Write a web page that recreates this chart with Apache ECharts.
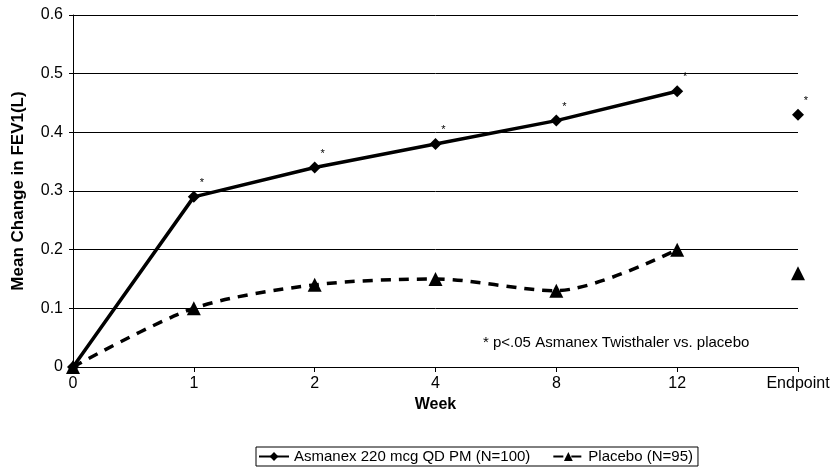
<!DOCTYPE html>
<html>
<head>
<meta charset="utf-8">
<script src="https://cdn.jsdelivr.net/npm/echarts@6/dist/echarts.min.js"></script>
<style>html,body{margin:0;padding:0;background:#fff;}#c{width:835px;height:475px;}</style>
</head>
<body>
<div id="c"></div>
<script>
var categories = ['0', '1', '2', '4', '8', '12', 'Endpoint'];
var asmanexWeeks = [0, 0.29, 0.34, 0.38, 0.42, 0.47];
var asmanexEndpoint = 0.43;
var placeboWeeks = [0, 0.10, 0.14, 0.15, 0.13, 0.20];
var placeboEndpoint = 0.16;
var significant = [false, true, true, true, true, true, true];
var yTicks = [0, 0.1, 0.2, 0.3, 0.4, 0.5, 0.6];
var nameA = 'Asmanex 220 mcg QD PM (N=100)';
var nameP = 'Placebo (N=95)';
var note = '* p<.05 Asmanex Twisthaler vs. placebo';

var font = 'Liberation Sans, Arial, sans-serif';
var star = {show: true, formatter: '*', position: 'inside', offset: [8, -14], fontSize: 11, color: '#000', fontFamily: font};

function lineData(vals, sig) {
  var d = vals.map(function (v, i) {
    return sig ? {value: v, label: significant[i] ? star : {show: false}} : v;
  });
  d.push('-');
  return d;
}
function endData(v, sig) {
  var d = categories.map(function () { return '-'; });
  d[categories.length - 1] = sig ? {value: v, label: significant[categories.length - 1] ? star : {show: false}} : v;
  return d;
}

var chart = echarts.init(document.getElementById('c'));
chart.setOption({
  backgroundColor: '#fff',
  animation: false,
  textStyle: {fontFamily: font, color: '#000'},
  grid: {left: 73, right: 37, top: 15, bottom: 108, containLabel: false},
  xAxis: {
    type: 'category',
    data: categories,
    boundaryGap: false,
    name: 'Week',
    nameLocation: 'middle',
    nameGap: 27,
    nameTextStyle: {fontFamily: font, fontSize: 16, fontWeight: 'bold', color: '#000'},
    axisLine: {lineStyle: {color: '#000', width: 1}},
    axisTick: {show: true, length: 5, alignWithLabel: true, lineStyle: {color: '#000'}},
    axisLabel: {fontFamily: font, fontSize: 16, color: '#000', margin: 9},
    splitLine: {show: false}
  },
  yAxis: {
    type: 'value',
    min: 0, max: 0.6, interval: 0.1,
    name: 'Mean Change in FEV1(L)',
    nameLocation: 'middle',
    nameGap: 46,
    nameTextStyle: {fontFamily: font, fontSize: 17, fontWeight: 'bold', color: '#000'},
    axisLine: {show: true, lineStyle: {color: '#000', width: 1}},
    axisTick: {show: true, length: 4, lineStyle: {color: '#000'}},
    axisLabel: {fontFamily: font, fontSize: 16, color: '#000', margin: 10,
      formatter: function (v) { var t = yTicks.reduce(function (a, b) { return Math.abs(b - v) < Math.abs(a - v) ? b : a; }); return t === 0 ? '0' : t.toFixed(1); }},
    splitLine: {show: true, lineStyle: {color: '#000', width: 1}}
  },
  legend: {
    bottom: 9,
    left: 256,
    data: [nameA, nameP],
    borderColor: '#000',
    borderWidth: 1,
    borderRadius: 0,
    padding: [2, 5, 2, 2],
    itemGap: 22,
    itemWidth: 30,
    itemHeight: 11,
    textStyle: {fontFamily: font, fontSize: 15, color: '#000'}
  },
  graphic: [{
    type: 'text',
    left: 483, top: 335,
    style: {text: note, font: '15px ' + font, fill: '#000'}
  }],
  series: [
    {
      name: nameA, type: 'line', data: lineData(asmanexWeeks, true),
      symbol: 'diamond', symbolSize: 12,
      lineStyle: {color: '#000', width: 3.5},
      itemStyle: {color: '#000'},
      z: 3
    },
    {
      name: nameP, type: 'line', data: lineData(placeboWeeks, false),
      symbol: 'triangle', symbolSize: 14, smooth: 0.3,
      lineStyle: {color: '#000', width: 3.5, type: [10, 8]},
      itemStyle: {color: '#000'},
      z: 3
    },
    {
      name: nameA, type: 'line', data: endData(asmanexEndpoint, true),
      symbol: 'diamond', symbolSize: 12, showSymbol: true,
      lineStyle: {width: 0}, itemStyle: {color: '#000'}, z: 3
    },
    {
      name: nameP, type: 'line', data: endData(placeboEndpoint, false),
      symbol: 'triangle', symbolSize: 14, showSymbol: true,
      lineStyle: {width: 0}, itemStyle: {color: '#000'}, z: 3
    }
  ]
});
</script>
</body>
</html>
